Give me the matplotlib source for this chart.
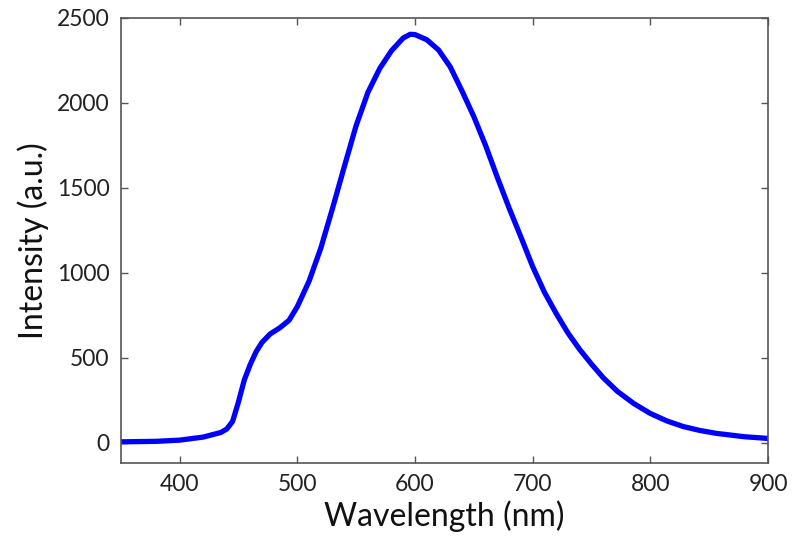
import numpy as np
import matplotlib
matplotlib.use("Agg")
import matplotlib.pyplot as plt

# Widmo emisji
wavelength = [350, 380, 400, 420, 435, 440, 445, 450, 455, 460, 465, 470, 477,
              485, 493, 500, 510, 520, 530, 540, 550, 560, 570, 580, 590, 596,
              600, 610, 620, 630, 640, 650, 660, 670, 680, 690, 700, 710, 720,
              730, 740, 750, 760, 772, 786, 800, 814, 828, 842, 856, 880, 900]
intensity = [5, 8, 15, 33, 60, 80, 125, 240, 370, 460, 535, 590, 640,
             675, 720, 800, 950, 1145, 1380, 1625, 1865, 2060, 2200, 2305, 2380, 2402,
             2400, 2370, 2310, 2210, 2068, 1918, 1748, 1560, 1380, 1210, 1036, 885, 760,
             645, 548, 462, 382, 302, 230, 172, 128, 95, 72, 55, 35, 25]

xticks = [400, 500, 600, 700, 800, 900]
yticks = [0, 500, 1000, 1500, 2000, 2500]

plt.rcParams['font.family'] = ['Lato', 'DejaVu Sans']

fig = plt.figure(figsize=(8, 5.5), dpi=100)
ax = fig.add_axes([0.151, 0.158, 0.809, 0.81])

ax.plot(wavelength, intensity, color='#0000ff', lw=3.8, solid_joinstyle='round')

ax.set_xlim(350, 900)
ax.set_ylim(-120, 2500)
ax.set_xticks(xticks)
ax.set_yticks(yticks)

ax.tick_params(direction='in', length=5, width=1, colors='#555555',
               labelcolor='#222222', labelsize=16.5, top=True, right=True, pad=8)
for s in ax.spines.values():
    s.set_color('#555555')
    s.set_linewidth(1.2)

ax.set_xlabel("Wavelength (nm)", fontsize=23, color='#111111', labelpad=4)
ax.set_ylabel("Intensity (a.u.)", fontsize=23, color='#111111', labelpad=6)

fig.savefig("out.png", dpi=100)
